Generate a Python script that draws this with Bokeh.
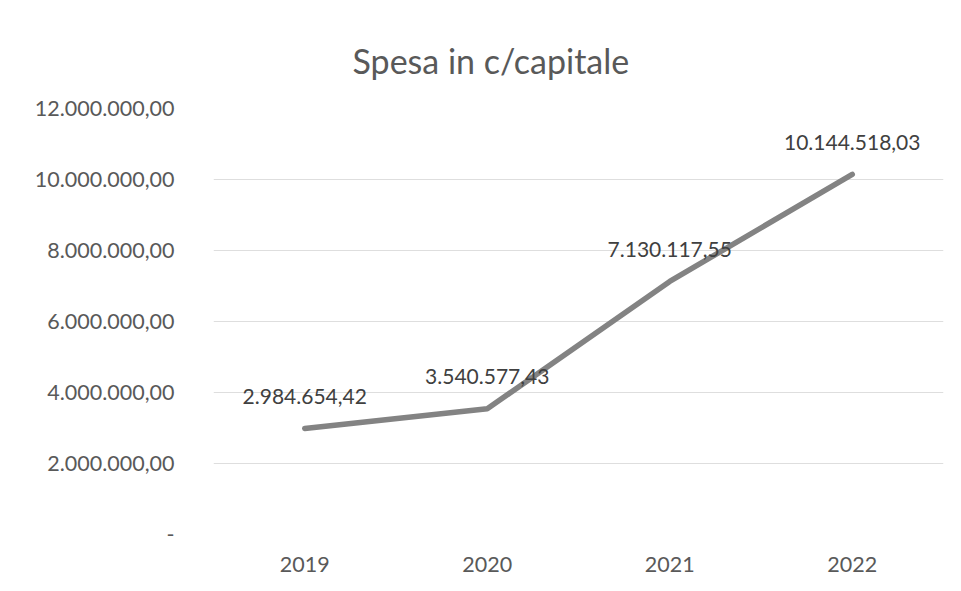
from bokeh.plotting import figure
from bokeh.models import (ColumnDataSource, FixedTicker, CustomJSTickFormatter,
                          LabelSet, FactorRange, Range1d)
from bokeh.core.properties import value
from bokeh.embed import file_html
from bokeh.resources import INLINE

# ---- data ----
years = ["2019", "2020", "2021", "2022"]
spesa = [2984654.42, 3540577.43, 7130117.55, 10144518.03]
y_ticks = [0, 2000000, 4000000, 6000000, 8000000, 10000000, 12000000]
title_text = "Spesa in c/capitale"


def it_fmt(v):
    s = f"{v:,.2f}"
    return s.replace(",", "X").replace(".", ",").replace("X", ".")


labels = [it_fmt(v) for v in spesa]

src = ColumnDataSource(dict(x=years, y=spesa, lab=labels))

FONT = "Lato"

p = figure(width=961, height=591, x_range=FactorRange(*years),
           y_range=Range1d(0, 12000000), output_backend="svg",
           toolbar_location=None, min_border_left=213, min_border_right=18,
           min_border_top=108, min_border_bottom=57)
p.outline_line_color = None
p.background_fill_color = "white"
p.border_fill_color = "white"

p.title.text = title_text
p.title.align = "left"
p.title.offset = 139
p.title.standoff = 56
p.title.text_font = FONT
p.title.text_font_size = "34px"
p.title.text_font_style = "normal"
p.title.text_color = "#595959"

p.line("x", "y", source=src, line_color="#838383", line_width=5.5,
       line_join="round", line_cap="round")

ls = LabelSet(x="x", y="y", text="lab", source=src, y_offset=32,
              text_align="center", text_baseline="middle",
              text_font=value(FONT), text_font_size=value("21px"),
              text_color="#404040")
p.add_layout(ls)

# axes
p.yaxis.ticker = FixedTicker(ticks=y_ticks)
p.yaxis.formatter = CustomJSTickFormatter(code="""
if (tick == 0) { return "-"; }
var s = Math.round(tick).toString().replace(/\\B(?=(\\d{3})+(?!\\d))/g, ".");
return s + ",00";
""")
for ax in (p.xaxis, p.yaxis):
    ax.axis_line_color = None
    ax.major_tick_line_color = None
    ax.minor_tick_line_color = None
    ax.major_label_text_font = FONT
    ax.major_label_text_font_size = "21.5px"
    ax.major_label_text_color = "#595959"
p.yaxis.major_label_standoff = 33
p.xaxis.major_label_standoff = 16

p.xgrid.grid_line_color = None
p.ygrid.ticker = FixedTicker(ticks=y_ticks)
p.ygrid.grid_line_color = "#dedede"
p.ygrid.grid_line_width = 1

open("out.html", "w").write(file_html(p, INLINE))
